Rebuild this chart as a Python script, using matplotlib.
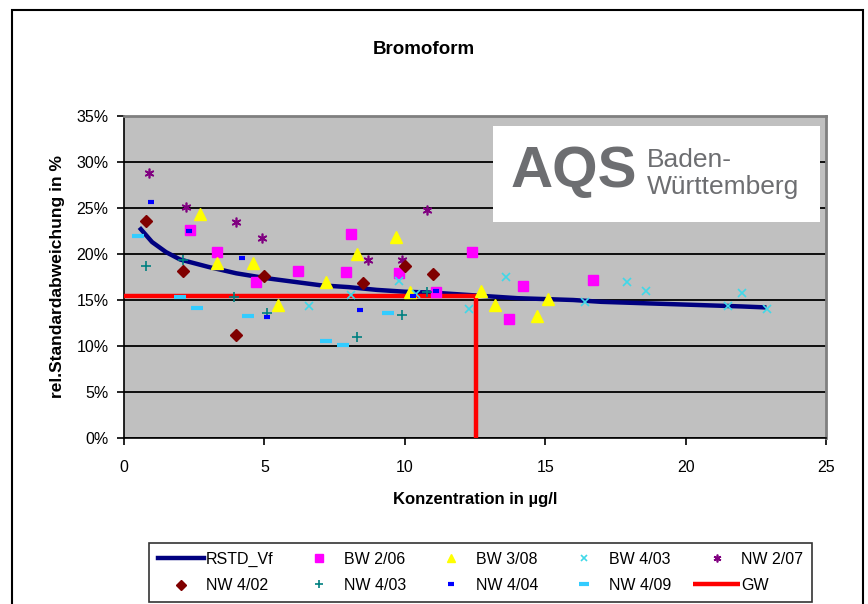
import matplotlib
matplotlib.use("Agg")
import matplotlib.pyplot as plt
from matplotlib.patches import Rectangle
from matplotlib.ticker import PercentFormatter

plt.rcParams["font.family"] = ["Liberation Sans", "DejaVu Sans"]

# Kurve RSTD_Vf (Konzentration, rel. Standardabweichung in %)
rstd_x = [0.6, 1.0, 1.5, 2.0, 3, 4, 5, 6, 7, 8, 9, 10, 11, 12, 13, 14, 15, 16, 17, 18, 19, 20, 21, 22, 22.8]
rstd_y = [22.7, 21.3, 20.2, 19.4, 18.6, 17.9, 17.4, 17.0, 16.6, 16.4, 16.1, 15.9, 15.8, 15.6, 15.4, 15.2,
          15.1, 15.0, 14.8, 14.7, 14.6, 14.5, 14.4, 14.3, 14.2]

# Ringversuche
bw206_x = [2.35, 3.3, 4.7, 6.2, 7.9, 8.1, 9.8, 11.1, 12.4, 13.7, 14.2, 16.7]
bw206_y = [22.6, 20.2, 17.0, 18.1, 18.0, 22.2, 17.9, 15.9, 20.2, 12.9, 16.5, 17.2]

bw308_x = [2.7, 3.3, 4.6, 5.5, 7.2, 8.3, 9.7, 10.2, 12.7, 13.2, 14.7, 15.1]
bw308_y = [24.3, 19.0, 19.0, 14.5, 17.0, 20.0, 21.8, 15.9, 16.0, 14.5, 13.3, 15.1]

bw403_x = [6.6, 8.1, 9.8, 10.4, 12.3, 13.6, 16.4, 17.9, 18.6, 21.5, 22.0, 22.9]
bw403_y = [14.3, 15.5, 17.1, 15.7, 14.0, 17.5, 14.8, 17.0, 16.0, 14.3, 15.8, 14.0]

nw207_x = [0.9, 2.2, 4.0, 4.9, 8.7, 9.9, 10.8]
nw207_y = [28.8, 25.1, 23.5, 21.7, 19.3, 19.4, 24.8]

nw402_x = [0.8, 2.1, 4.0, 5.0, 8.5, 10.0, 11.0]
nw402_y = [23.6, 18.1, 11.2, 17.6, 16.8, 18.7, 17.8]

nw403_x = [0.8, 2.1, 3.9, 5.1, 8.3, 9.9, 10.8]
nw403_y = [18.7, 19.3, 15.3, 13.6, 11.0, 13.4, 15.9]

nw404_x = [0.96, 2.3, 4.2, 5.1, 8.4, 10.3, 11.1]
nw404_y = [25.6, 22.5, 19.6, 13.2, 13.9, 15.4, 16.0]

nw409_x = [0.5, 2.0, 2.6, 4.4, 7.2, 7.8, 9.4]
nw409_y = [22.0, 15.3, 14.1, 13.3, 10.5, 10.1, 13.6]

# Grenzwert GW
gw_x = [0, 12.55, 12.55]
gw_y = [15.4, 15.4, 0]

fig = plt.figure(figsize=(8.68, 6.04), dpi=100)
ax = fig.add_axes([124 / 868, 166 / 604, 702 / 868, 322 / 604])
ax.set_facecolor("#C0C0C0")

h_rstd, = ax.plot(rstd_x, rstd_y, color="#000080", lw=3.2, label="RSTD_Vf", zorder=3)
h1, = ax.plot(bw206_x, bw206_y, ls="none", marker="s", ms=6.5, color="#FF00FF", label="BW 2/06", zorder=4)
h2, = ax.plot(bw308_x, bw308_y, ls="none", marker="^", ms=8, color="#FFFF00", label="BW 3/08", zorder=4)
h3, = ax.plot(bw403_x, bw403_y, ls="none", marker="x", ms=6, mew=1.2, color="#40D8E8", label="BW 4/03", zorder=4)
h4, = ax.plot(nw207_x, nw207_y, ls="none", marker=(6, 2, 0), ms=7, mew=1.2, color="#800080", label="NW 2/07", zorder=4)
h5, = ax.plot(nw402_x, nw402_y, ls="none", marker="D", ms=6, color="#800000", label="NW 4/02", zorder=4)
h6, = ax.plot(nw403_x, nw403_y, ls="none", marker="+", ms=7, mew=1.2, color="#008080", label="NW 4/03", zorder=4)
h7, = ax.plot(nw404_x, nw404_y, ls="none", marker="_", ms=5, mew=3, color="#0000FF", label="NW 4/04", zorder=4)
h8, = ax.plot(nw409_x, nw409_y, ls="none", marker="_", ms=9, mew=3, color="#33CCFF", label="NW 4/09", zorder=4)
h_gw, = ax.plot(gw_x, gw_y, color="#FF0000", lw=3.2, label="GW", zorder=3, solid_capstyle="butt")

ax.set_xlim(0, 25)
ax.set_ylim(0, 35)
ax.set_xticks([0, 5, 10, 15, 20, 25])
ax.set_yticks(range(0, 36, 5))
ax.yaxis.set_major_formatter(PercentFormatter(decimals=0))
ax.grid(axis="y", color="black", lw=1.3)
ax.set_axisbelow(True)
ax.tick_params(direction="out", length=5, width=1.2, labelsize=11.5, pad=6)
ax.tick_params(axis="x", pad=11)
for s in ["left", "bottom"]:
    ax.spines[s].set_color("black")
    ax.spines[s].set_linewidth(1.2)
for s in ["top", "right"]:
    ax.spines[s].set_color("#808080")
    ax.spines[s].set_linewidth(2)

ax.set_xlabel("Konzentration in µg/l", fontsize=12, fontweight="bold", labelpad=12)
ax.set_ylabel("rel.Standardabweichung in %", fontsize=12.5, fontweight="bold", labelpad=8)
fig.text(424 / 868, 1 - 50 / 604, "Bromoform", ha="center", va="center", fontsize=13.5, fontweight="bold")

# Logo
fig.patches.append(Rectangle((493 / 868, 1 - 222 / 604), 327 / 868, 96 / 604,
                             transform=fig.transFigure, facecolor="white", edgecolor="none", zorder=5))
fig.text(511 / 868, 1 - 172 / 604, "AQS", fontsize=42, fontweight="bold", color="#6D6E71",
         ha="left", va="center", zorder=6)
fig.text(647 / 868, 1 - 160 / 604, "Baden-", fontsize=19, color="#6D6E71", ha="left", va="center", zorder=6)
fig.text(647 / 868, 1 - 187 / 604, "Württemberg", fontsize=19, color="#6D6E71", ha="left", va="center", zorder=6)

# Legende zeilenweise wie im Original (matplotlib füllt spaltenweise)
leg_handles = [h_rstd, h5, h1, h6, h2, h7, h3, h8, h4, h_gw]
leg = fig.legend(handles=leg_handles, ncol=5,
                 loc="lower left", bbox_to_anchor=(149 / 868, 2 / 604), borderaxespad=0,
                 fontsize=11.5, frameon=True, fancybox=False, edgecolor="black", borderpad=0.55,
                 handlelength=2.9, handletextpad=0.1, columnspacing=1.4, labelspacing=0.7,
                 markerscale=0.8)
leg.get_frame().set_linewidth(1.2)

# Rahmen
fig.patches.append(Rectangle((12 / 868, -0.02), 851 / 868, 1.02 - 10 / 604,
                             transform=fig.transFigure, facecolor="none", edgecolor="black", lw=1.5))

fig.savefig("out.png", dpi=100)
